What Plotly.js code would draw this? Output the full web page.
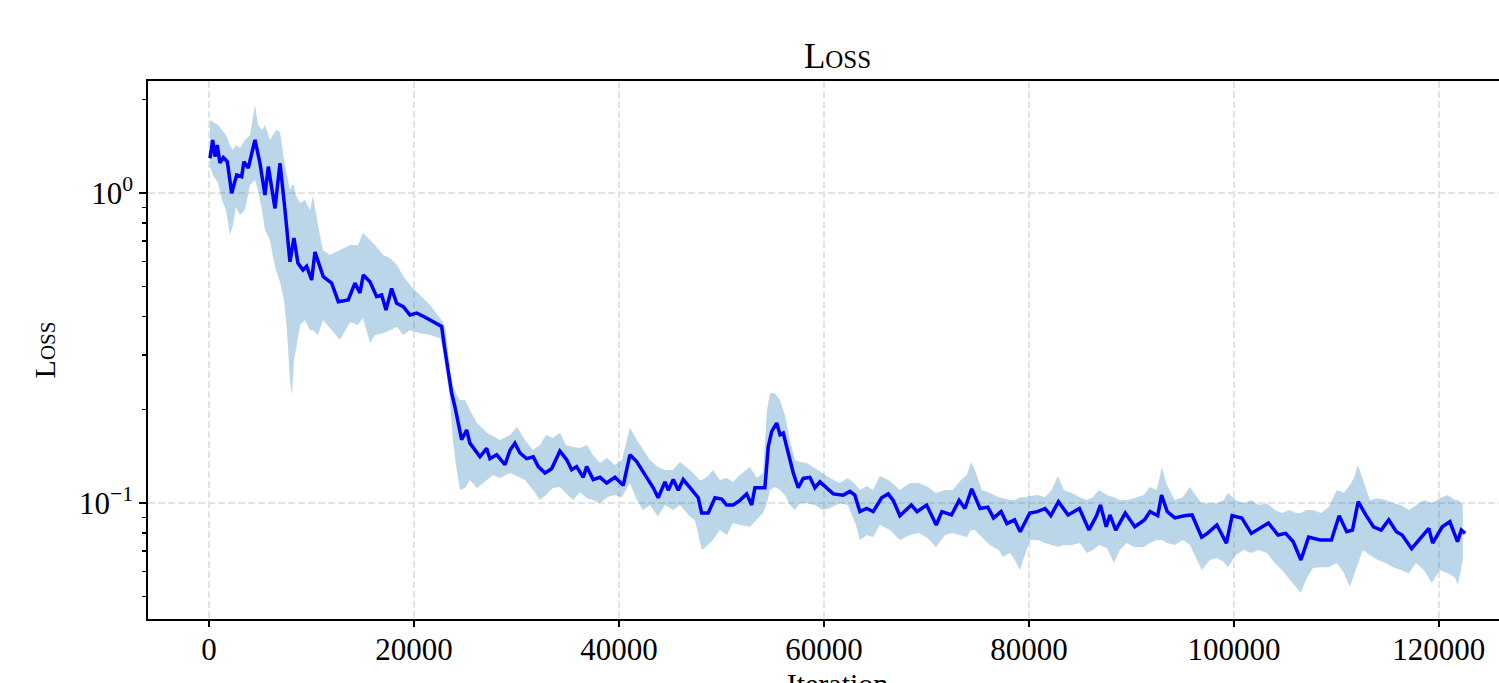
<!DOCTYPE html>
<html>
<head>
<meta charset="utf-8">
<script src="https://cdn.plot.ly/plotly-3.0.1.min.js"></script>
<style>
  html, body { margin: 0; padding: 0; background: #ffffff; overflow: hidden; }
  #chart { width: 1560px; height: 700px; }
</style>
</head>
<body>
<div id="chart"></div>
<script>
// ---- data ----
const iterMean = [100,360,585,810,1070,1400,1790,2210,2700,3190,
3410,3830,4490,4975,5460,5790,6440,6930,7415,7740,
7900,8290,8680,9170,9530,10020,10340,11150,11970,12620,
13590,14240,14730,15060,15710,16360,16850,17270,17820,18310,
18960,19610,20260,20910,21880,22700,23020,23350,23680,24000,
24320,24650,25140,25460,26440,27090,27410,28070,28880,29370,
29850,30340,30990,31640,32130,32780,33430,34240,34900,35390,
35870,36520,36850,37490,38150,38800,39610,40420,41070,41730,
42700,43350,43830,44490,44810,45300,45790,46270,46930,47740,
48070,48710,49370,50020,50510,51150,51800,52460,52950,53270,
54240,54570,54900,55390,55720,56030,56520,57010,57490,57980,
58630,59120,59610,60260,60910,61880,62540,63020,63510,64160,
64810,65630,66270,66760,67410,68530,69090,70020,70960,71510,
72450,73190,73760,74420,75240,75990,76550,77290,77850,78600,
79150,80090,80830,81580,82140,82880,83820,84930,85860,86600,
86980,87540,87910,88470,89400,90330,91270,91820,92570,92940,
93500,94240,95180,95920,96860,97410,98340,99270,99830,100770,
101700,103370,104310,105050,105790,106540,107290,108410,109520,110270,
111010,111570,112130,112870,113620,114370,115110,115850,116420,117340,
118280,119020,119390,120330,121070,121820,122190,122560];

const lossMean = [1.294,1.483,1.310,1.428,1.25,1.30,1.262,0.998,1.143,1.129,
1.262,1.204,1.483,1.247,0.985,1.216,0.892,1.247,0.882,0.690,
0.60,0.716,0.594,0.564,0.58,0.524,0.645,0.537,0.512,0.446,
0.452,0.512,0.476,0.544,0.517,0.463,0.469,0.419,0.492,0.441,
0.430,0.404,0.41,0.40,0.384,0.371,0.312,0.269,0.226,0.204,
0.181,0.16,0.172,0.156,0.141,0.15,0.139,0.143,0.133,0.148,
0.156,0.145,0.139,0.141,0.131,0.125,0.129,0.147,0.138,0.128,
0.131,0.121,0.131,0.119,0.121,0.116,0.121,0.114,0.143,0.136,
0.121,0.112,0.104,0.117,0.110,0.119,0.110,0.119,0.112,0.104,
0.0928,0.0928,0.104,0.103,0.0985,0.0985,0.102,0.107,0.0985,0.112,
0.112,0.152,0.170,0.181,0.166,0.168,0.145,0.125,0.112,0.12,
0.121,0.112,0.117,0.112,0.107,0.106,0.109,0.106,0.0938,0.096,
0.0938,0.104,0.107,0.102,0.091,0.0985,0.0938,0.0985,0.0849,0.0938,
0.0915,0.102,0.096,0.111,0.096,0.097,0.0895,0.0938,0.0858,0.0882,
0.0808,0.0928,0.0938,0.096,0.091,0.101,0.0915,0.096,0.0818,0.091,
0.0985,0.0838,0.0915,0.0818,0.0928,0.0838,0.0882,0.0938,0.091,0.106,
0.0938,0.0895,0.091,0.0915,0.0776,0.0798,0.0849,0.0742,0.091,0.0895,
0.0798,0.0862,0.0788,0.0798,0.0750,0.0655,0.0776,0.076,0.076,0.091,
0.0808,0.0818,0.101,0.0915,0.0838,0.0818,0.0882,0.0808,0.0788,0.0712,
0.0776,0.0828,0.0742,0.0838,0.087,0.075,0.0818,0.0798];

const iterBand = [100,390,880,1270,1660,2050,2340,2630,3020,3510,
4000,4490,4780,5170,5460,5950,6240,6540,6930,7320,
7610,7900,8100,8290,8490,8880,9370,9850,10150,10630,
11120,11800,12780,13760,14540,15020,15710,16200,16980,17660,
18340,18930,19610,20590,21560,22540,22830,23120,23320,23510,
23800,24100,24490,24980,25460,26150,27120,27710,28390,29370,
30050,30830,31610,32290,32880,33560,34240,34830,35510,36190,
36880,37460,38150,38830,39610,40290,41070,41750,42340,43020,
43800,44490,45270,45950,46930,47410,47900,48100,48680,49170,
49850,50540,51120,51800,52780,53460,54050,54440,54740,55220,
55710,56190,56680,57170,57660,58340,59120,59900,60590,61560,
62340,63120,63510,64200,64780,65460,66440,67410,68390,69270,
70150,70930,71810,72590,73370,73950,74340,74730,75410,76200,
77070,77460,78150,78630,79120,79610,80100,80880,81560,82240,
82830,83410,84190,84970,85660,86240,86830,87610,88290,88880,
89560,90240,91220,91800,92490,92980,93460,94240,95020,95710,
96390,96880,97660,98340,99020,99410,100190,100970,101660,102440,
103220,104000,104680,105460,106050,106540,107020,107710,108490,109270,
110050,110730,111320,111710,112100,112590,113270,114050,114830,115510,
116290,117070,117760,118540,119320,120100,120880,121560,121850,122340];

const lossUpper = [1.720,1.694,1.657,1.597,1.539,1.428,1.376,1.428,1.396,1.483,
1.539,1.922,1.657,1.597,1.657,1.483,1.539,1.597,1.575,1.278,
1.143,1.023,1.061,1.061,0.985,0.929,0.949,0.882,0.978,0.788,
0.655,0.631,0.655,0.680,0.680,0.743,0.705,0.680,0.631,0.617,
0.586,0.540,0.505,0.469,0.435,0.395,0.383,0.361,0.300,0.269,
0.240,0.226,0.215,0.215,0.1995,0.181,0.1685,0.1645,0.1597,0.1657,
0.1758,0.1597,0.1483,0.1539,0.1657,0.1621,0.1685,0.1539,0.1515,0.1504,
0.1539,0.1429,0.1346,0.1397,0.1326,0.1376,0.1748,0.1597,0.1483,0.1376,
0.1306,0.1278,0.1278,0.1356,0.1278,0.1231,0.1186,0.1186,0.1222,0.1278,
0.1186,0.1203,0.1169,0.1231,0.1306,0.1203,0.1250,0.1995,0.226,0.226,
0.215,0.192,0.1597,0.1376,0.1356,0.1346,0.1296,0.1250,0.1203,0.1161,
0.1203,0.1143,0.1101,0.1135,0.1101,0.1222,0.1177,0.1101,0.1161,0.1161,
0.1127,0.1077,0.1101,0.1101,0.1186,0.1231,0.1356,0.1278,0.1101,0.1077,
0.1044,0.1036,0.1022,0.1022,0.1044,0.1044,0.1053,0.1061,0.1044,0.1101,
0.1222,0.1101,0.1077,0.1044,0.1022,0.1044,0.1101,0.1061,0.1044,0.1022,
0.1022,0.1036,0.1061,0.1127,0.1101,0.1306,0.1143,0.1022,0.1044,0.1127,
0.1044,0.0999,0.0999,0.0999,0.1022,0.1077,0.1022,0.0999,0.1022,0.0985,
0.0999,0.0949,0.0928,0.0949,0.0928,0.0928,0.0949,0.0949,0.0928,0.0971,
0.1101,0.1077,0.1143,0.1203,0.1326,0.1186,0.1022,0.1036,0.1022,0.0999,
0.0985,0.0949,0.0985,0.1022,0.0999,0.1036,0.1061,0.1022,0.1022,0.0985];

const lossLower = [1.213,1.143,1.077,0.949,0.882,0.732,0.788,0.901,0.849,0.882,
1.061,1.101,1.023,0.882,0.760,0.705,0.622,0.564,0.516,0.452,
0.361,0.249,0.223,0.289,0.312,0.375,0.389,0.361,0.361,0.348,
0.389,0.367,0.336,0.383,0.375,0.395,0.328,0.348,0.353,0.361,
0.370,0.348,0.361,0.353,0.348,0.340,0.312,0.269,0.240,0.215,
0.1597,0.1326,0.1101,0.1118,0.1186,0.1118,0.1186,0.1231,0.1203,0.1250,
0.1222,0.1186,0.1101,0.1022,0.1061,0.1118,0.1127,0.1077,0.1022,0.1084,
0.1036,0.1022,0.0999,0.1044,0.1061,0.1044,0.1161,0.1022,0.0949,0.0985,
0.0904,0.0985,0.0949,0.0985,0.0904,0.0882,0.0760,0.0705,0.0732,0.0760,
0.0818,0.0788,0.0862,0.0849,0.0838,0.0882,0.0928,0.0999,0.1101,0.1127,
0.1101,0.1061,0.0985,0.0949,0.0999,0.0999,0.0985,0.0949,0.0964,0.0999,
0.0985,0.0849,0.0760,0.0788,0.0776,0.0849,0.0818,0.0760,0.0788,0.0800,
0.0770,0.0720,0.0788,0.0800,0.0788,0.0776,0.0818,0.0818,0.0776,0.0732,
0.0705,0.0670,0.0690,0.0655,0.0608,0.0680,0.0760,0.0760,0.0743,0.0732,
0.0721,0.0732,0.0732,0.0743,0.0690,0.0705,0.0732,0.0716,0.0641,0.0705,
0.0743,0.0721,0.0721,0.0743,0.0760,0.0760,0.0743,0.0732,0.0760,0.0732,
0.0655,0.0608,0.0655,0.0665,0.0645,0.0621,0.0680,0.0705,0.0690,0.0705,
0.0690,0.0641,0.0608,0.0564,0.0536,0.0513,0.0564,0.0617,0.0621,0.0621,
0.0641,0.0595,0.0536,0.0586,0.0641,0.0705,0.0680,0.0655,0.0641,0.0621,
0.0608,0.0594,0.0641,0.0608,0.0552,0.0608,0.0594,0.0575,0.0544,0.0655];

const xTickVals = [0, 20000, 40000, 60000, 80000, 100000, 120000];
const xTickText = ["0", "20000", "40000", "60000", "80000", "100000", "120000"];
const yTickVals = [0.1, 1];
const yTickText = ["10<sup>\u22121</sup>", "10<sup>0</sup>"];
const yMinorVals = [0.05, 0.06, 0.07, 0.08, 0.09, 0.2, 0.3, 0.4, 0.5, 0.6, 0.7, 0.8, 0.9, 2];

// ---- drawing ----
const FONT = "Liberation Serif, Times New Roman, serif";

const traces = [
  {
    x: iterBand, y: lossLower, type: "scatter", mode: "lines",
    line: {width: 0, color: "rgba(31,119,180,0)"},
    showlegend: false, hoverinfo: "skip"
  },
  {
    x: iterBand, y: lossUpper, type: "scatter", mode: "lines",
    fill: "tonexty", fillcolor: "rgba(31,119,180,0.3)",
    line: {width: 0, color: "rgba(31,119,180,0)"},
    showlegend: false, hoverinfo: "skip"
  },
  {
    x: iterMean, y: lossMean, type: "scatter", mode: "lines",
    line: {width: 3.5, color: "#0000ff"},
    showlegend: false
  }
];

const layout = {
  width: 1560, height: 700,
  margin: {l: 148, r: 33, t: 81, b: 81},
  paper_bgcolor: "#ffffff", plot_bgcolor: "#ffffff",
  font: {family: FONT, color: "#000000"},
  title: {
    text: "Loss",
    font: {family: FONT, size: 35, color: "#000000", variant: "small-caps"},
    x: 0.5, xref: "paper", xanchor: "center",
    y: 0.921, yref: "container", yanchor: "middle"
  },
  xaxis: {
    range: [-5950, 128600],
    tickmode: "array", tickvals: xTickVals, ticktext: xTickText,
    tickfont: {family: FONT, size: 31, color: "#000000"},
    ticklabelstandoff: -4,
    ticks: "outside", ticklen: 6, tickwidth: 1.5, tickcolor: "#000000",
    showline: true, linecolor: "#000000", linewidth: 1.7, mirror: true,
    showgrid: true, gridcolor: "#e3e3e3", gridwidth: 1.5, griddash: "7px,3px",
    zeroline: false,
    title: {text: "Iteration", font: {family: FONT, size: 30, color: "#000000"}, standoff: 4}
  },
  yaxis: {
    type: "log",
    range: [Math.log10(0.04225), Math.log10(2.297)],
    tickmode: "array", tickvals: yTickVals, ticktext: yTickText,
    tickfont: {family: FONT, size: 31, color: "#000000"},
    ticks: "outside", ticklen: 7, tickwidth: 1.5, tickcolor: "#000000",
    minor: {tickmode: "array", tickvals: yMinorVals, ticks: "outside", ticklen: 4, tickwidth: 1.2, tickcolor: "#000000", showgrid: false},
    showline: true, linecolor: "#000000", linewidth: 1.7, mirror: true,
    showgrid: true, gridcolor: "#e3e3e3", gridwidth: 1.5, griddash: "7px,3px",
    zeroline: false,
    title: {text: "Loss", font: {family: FONT, size: 30, color: "#000000", variant: "small-caps"}, standoff: 14}
  }
};

Plotly.newPlot("chart", traces, layout, {displayModeBar: false, staticPlot: true});
</script>
</body>
</html>
